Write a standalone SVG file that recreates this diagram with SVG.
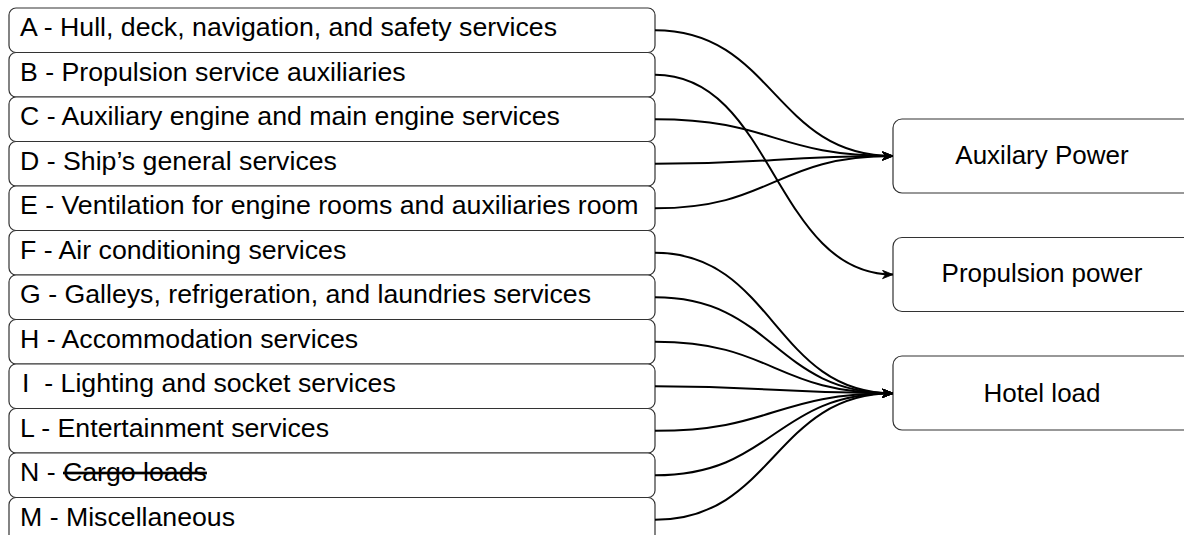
<svg xmlns="http://www.w3.org/2000/svg" width="1184" height="535" viewBox="0 0 1184 535">
<style>
.box{fill:#fff;stroke:#333;stroke-width:1.2}
.lt{font-family:"Liberation Sans",Arial,sans-serif;font-size:26.7px;fill:#000;white-space:pre}
.rt{font-family:"Liberation Sans",Arial,sans-serif;font-size:26px;fill:#000;text-anchor:middle}
.edge{fill:none;stroke:#000;stroke-width:2}
</style>
<defs>
<marker id="arr" markerUnits="userSpaceOnUse" markerWidth="12" markerHeight="10" viewBox="0 0 12 10" refX="11" refY="5" orient="auto">
<path d="M0.5,0.8 L11,5 L0.5,9.2 L3.5,5 Z" fill="#000" stroke="#000" stroke-width="0.8" stroke-linejoin="miter"/>
</marker>
</defs>
<rect width="1184" height="535" fill="#fff"/>
<g id="nodeA"><rect class="box" x="9" y="8" width="646" height="44.5" rx="7"/><text class="lt" x="20" y="36">A - Hull, deck, navigation, and safety services</text></g>
<g id="nodeB"><rect class="box" x="9" y="52.5" width="646" height="44.5" rx="7"/><text class="lt" x="20" y="80.5">B - Propulsion service auxiliaries</text></g>
<g id="nodeC"><rect class="box" x="9" y="97" width="646" height="44.5" rx="7"/><text class="lt" x="20" y="125">C - Auxiliary engine and main engine services</text></g>
<g id="nodeD"><rect class="box" x="9" y="141.5" width="646" height="44.5" rx="7"/><text class="lt" x="20" y="169.5">D - Ship’s general services</text></g>
<g id="nodeE"><rect class="box" x="9" y="186" width="646" height="44.5" rx="7"/><text class="lt" x="20" y="214">E - Ventilation for engine rooms and auxiliaries room</text></g>
<g id="nodeF"><rect class="box" x="9" y="230.5" width="646" height="44.5" rx="7"/><text class="lt" x="20" y="258.5">F - Air conditioning services</text></g>
<g id="nodeG"><rect class="box" x="9" y="275" width="646" height="44.5" rx="7"/><text class="lt" x="20" y="303">G - Galleys, refrigeration, and laundries services</text></g>
<g id="nodeH"><rect class="box" x="9" y="319.5" width="646" height="44.5" rx="7"/><text class="lt" x="20" y="347.5">H - Accommodation services</text></g>
<g id="nodeI"><rect class="box" x="9" y="364" width="646" height="44.5" rx="7"/><text class="lt" x="22" y="392">I  - Lighting and socket services</text></g>
<g id="nodeL"><rect class="box" x="9" y="408.5" width="646" height="44.5" rx="7"/><text class="lt" x="20" y="436.5">L - Entertainment services</text></g>
<g id="nodeN"><rect class="box" x="9" y="453" width="646" height="44.5" rx="7"/><text class="lt" x="20" y="481">N - <tspan text-decoration="line-through">Cargo loads</tspan></text></g>
<g id="nodeM"><rect class="box" x="9" y="497.5" width="646" height="44.5" rx="7"/><text class="lt" x="20" y="525.5">M - Miscellaneous</text></g>
<g id="aux"><rect class="box" x="893" y="119" width="300" height="74" rx="9"/><text class="rt" x="1042" y="163.5">Auxilary Power</text></g>
<g id="prop"><rect class="box" x="893" y="237.5" width="300" height="74" rx="9"/><text class="rt" x="1042" y="282">Propulsion power</text></g>
<g id="hotel"><rect class="box" x="893" y="356" width="300" height="74" rx="9"/><text class="rt" x="1042" y="402">Hotel load</text></g>
<g id="connectors">
<path class="edge" marker-end="url(#arr)" d="M655,30.3 C774,30.3 774,156 893,156"/>
<path class="edge" marker-end="url(#arr)" d="M655,74.8 C774,74.8 774,274.5 893,274.5"/>
<path class="edge" marker-end="url(#arr)" d="M655,119.3 C774,119.3 774,156 893,156"/>
<path class="edge" marker-end="url(#arr)" d="M655,163.8 C774,163.8 774,156 893,156"/>
<path class="edge" marker-end="url(#arr)" d="M655,208.3 C774,208.3 774,156 893,156"/>
<path class="edge" marker-end="url(#arr)" d="M655,252.8 C774,252.8 774,393.3 893,393.3"/>
<path class="edge" marker-end="url(#arr)" d="M655,297.3 C774,297.3 774,393.3 893,393.3"/>
<path class="edge" marker-end="url(#arr)" d="M655,341.8 C774,341.8 774,393.3 893,393.3"/>
<path class="edge" marker-end="url(#arr)" d="M655,386.3 C774,386.3 774,393.3 893,393.3"/>
<path class="edge" marker-end="url(#arr)" d="M655,430.8 C774,430.8 774,393.3 893,393.3"/>
<path class="edge" marker-end="url(#arr)" d="M655,475.3 C774,475.3 774,393.3 893,393.3"/>
<path class="edge" marker-end="url(#arr)" d="M655,519.8 C774,519.8 774,393.3 893,393.3"/>
</g>
</svg>
